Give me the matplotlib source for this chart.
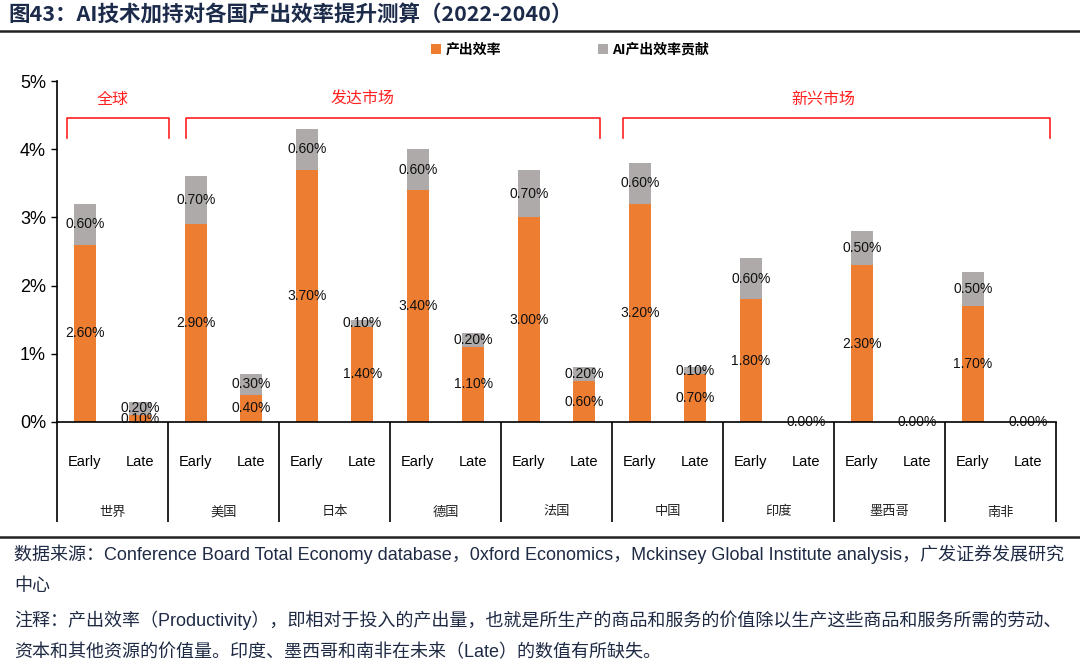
import numpy as np
import matplotlib.pyplot as plt
from matplotlib.transforms import blended_transform_factory

plt.rcParams['font.family'] = ['Liberation Sans', 'Noto Sans CJK SC', 'DejaVu Sans']
CJK = ['Noto Sans CJK SC', 'DejaVu Sans']

# data (percent)
countries = ["世界", "美国", "日本", "德国", "法国", "中国", "印度", "墨西哥", "南非"]
periods = ["Early", "Late"]
productivity = [2.6, 0.1, 2.9, 0.4, 3.7, 1.4, 3.4, 1.1, 3.0, 0.6,
                3.2, 0.7, 1.8, 0.0, 2.3, 0.0, 1.7, 0.0]
ai_contrib = [0.6, 0.2, 0.7, 0.3, 0.6, 0.1, 0.6, 0.2, 0.7, 0.2,
              0.6, 0.1, 0.6, 0.0, 0.5, 0.0, 0.5, 0.0]
groups = [("全球", -0.32, 1.52, 0.5), ("发达市场", 1.82, 9.28, 5.0),
          ("新兴市场", 9.70, 17.39, 13.3)]

ORANGE = "#ED7D31"
GREY = "#AEAAAA"
NAVY = "#1c2b4a"

fig = plt.figure(figsize=(10.8, 6.72), dpi=100)
ax = fig.add_axes([57 / 1080, 1 - 422 / 672, 999 / 1080, 341 / 672])

x = np.arange(len(productivity))
prod = np.array(productivity)
ai = np.array(ai_contrib)
ax.bar(x, prod, width=0.4, color=ORANGE, label="产出效率", zorder=2)
ax.bar(x, ai, width=0.4, bottom=prod, color=GREY, label="AI产出效率贡献", zorder=2)

for xi, p, a in zip(x, prod, ai):
    ax.text(xi, p / 2, f"{p:.2f}%", ha="center", va="center", fontsize=10, color="#111111", zorder=3)
    if a > 0:
        ax.text(xi, p + a / 2, f"{a:.2f}%", ha="center", va="center", fontsize=10, color="#111111", zorder=3)

ax.set_xlim(-0.5, len(x) - 0.5)
ax.set_ylim(0, 5)
ax.set_yticks(np.arange(0, 6, 1))
ax.set_yticklabels([f"{v}%" for v in range(6)], fontsize=13)
ax.tick_params(axis="y", length=4, width=1, pad=4)

ax.set_xticks(x)
ax.set_xticklabels(periods * len(countries), fontsize=10.5)
ax.tick_params(axis="x", which="major", length=0, pad=24)
ax.set_xticks(np.arange(-0.5, len(x), 2), minor=True)
ax.tick_params(axis="x", which="minor", length=72, width=1.2, direction="out")

for s in ["top", "right"]:
    ax.spines[s].set_visible(False)
ax.spines["left"].set_linewidth(1.2)
ax.spines["bottom"].set_linewidth(1.2)

trans = blended_transform_factory(ax.transData, fig.transFigure)
for i, c in enumerate(countries):
    ax.text(2 * i + 0.5, 1 - 512 / 672, c, transform=trans, ha="center", va="center",
            fontsize=9.5, family=CJK, color="#222222")

# region brackets
ytop, ybot = 4.46, 4.16
for name, x0, x1, xt in groups:
    ax.plot([x0, x0, x1, x1], [ybot, ytop, ytop, ybot], color="#FF2020", lw=1.2,
            clip_on=False, zorder=4)
    ax.text(xt, 4.73, name, ha="center", va="center", fontsize=11.5, color="#FF2020", family=CJK)

fig.legend(loc="center", bbox_to_anchor=(570 / 1080, 1 - 50 / 672), ncol=2, frameon=False,
           prop={"family": CJK, "weight": "bold", "size": 10}, handlelength=0.7,
           handleheight=0.7, handletextpad=0.3, columnspacing=7)

# title and rules
fig.text(8 / 1080, 1 - 15 / 672, "图43：AI技术加持对各国产出效率提升测算（2022-2040）", fontsize=15.5,
         weight="bold", color=NAVY, family=CJK, va="center", ha="left")
fig.add_artist(plt.Line2D([0, 1], [1 - 31 / 672] * 2, color="#222222", lw=1.8))
fig.add_artist(plt.Line2D([0, 1], [1 - 537 / 672] * 2, color="#222222", lw=1.8))

notes = [
    "数据来源：Conference Board Total Economy database，0xford Economics，Mckinsey Global Institute analysis，广发证券发展研究",
    "中心",
    "注释：产出效率（Productivity），即相对于投入的产出量，也就是所生产的商品和服务的价值除以生产这些商品和服务所需的劳动、",
    "资本和其他资源的价值量。印度、墨西哥和南非在未来（Late）的数值有所缺失。",
]
for yy, line in zip([554, 586, 620, 653], notes):
    fig.text(14 / 1080, 1 - yy / 672, line, fontsize=13, color="#1f2a44", va="center", ha="left",
             family=['Liberation Sans', 'Noto Sans CJK SC'])

fig.savefig("out.png", dpi=100)
